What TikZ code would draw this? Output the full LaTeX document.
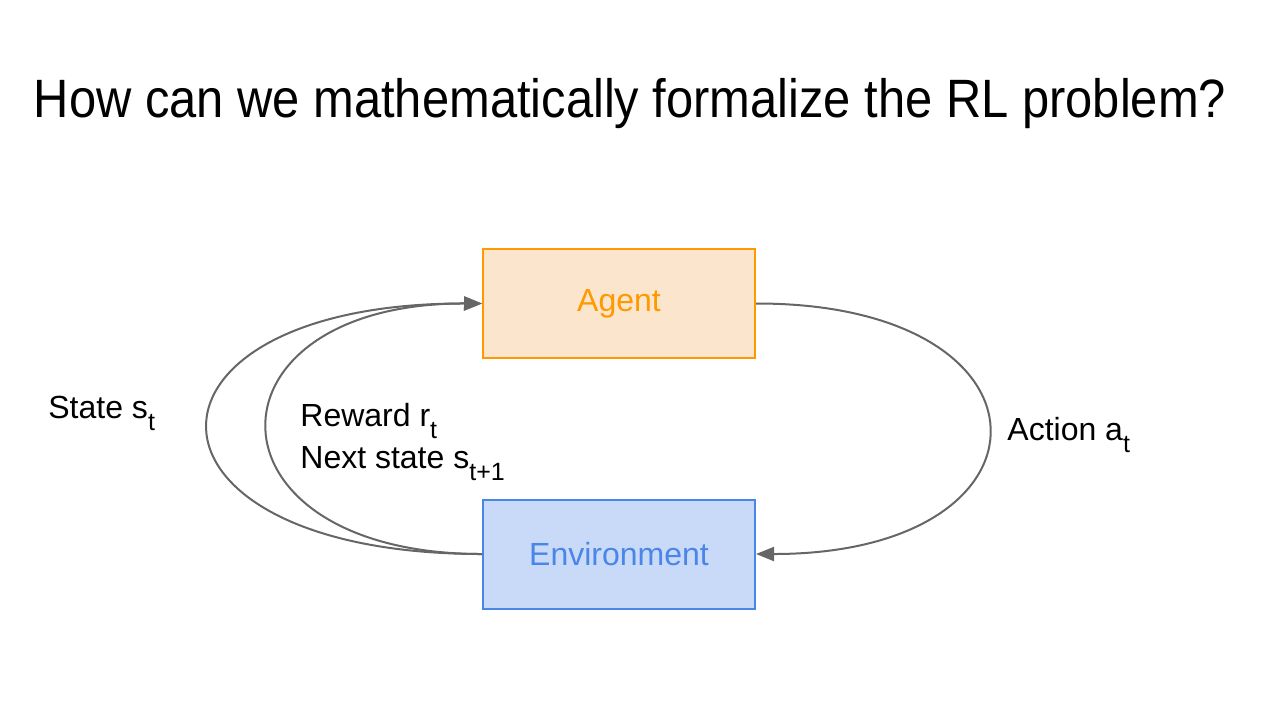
\documentclass[tikz,border=0pt]{standalone}
\usepackage{fontspec}
\setmainfont{Liberation Sans}
\newfontfamily\titlefont[FakeStretch=0.905]{Liberation Sans}
\usepackage{xcolor}
\usetikzlibrary{arrows.meta,positioning}

\definecolor{agentfill}{HTML}{FCE5CD}
\definecolor{agentline}{HTML}{FF9900}
\definecolor{envfill}{HTML}{C9DAF8}
\definecolor{envline}{HTML}{4A86E8}
\definecolor{loopgray}{HTML}{666666}

\newcommand{\lsub}[1]{\raisebox{-0.4em}{\fontsize{12.5}{12.5}\selectfont #1}}

\begin{document}
\begin{tikzpicture}[x=0.5pt, y=-0.5pt,
    rlbox/.style={rectangle, draw, line width=1pt, minimum width=136pt, minimum height=54.5pt, font=\fontsize{16}{19}\selectfont},
    rlarrow/.style={draw=loopgray, line width=1pt, -{Triangle[length=9pt, width=7pt]}},
    rllabel/.style={font=\fontsize{16}{19}\selectfont, align=left, inner sep=0pt}]

    \useasboundingbox (0,0) rectangle (1280,720);

    \node[font=\titlefont\fontsize{27}{32}\selectfont] (title) at (630,104) {How can we mathematically formalize the RL problem?};

    \node[rlbox, draw=agentline, fill=agentfill, text=agentline] (agent) at (619,303.5) {Agent};
    \node[rlbox, draw=envline, fill=envfill, text=envline] (env) at (619,554) {Environment};

    % action loop on the right
    \draw[rlarrow] (agent.east) .. controls (1066,303) and (1066,554) .. (env.east);

    % state and reward loops on the left
    \draw[rlarrow] (env.west) .. controls (117,554) and (117,303) .. (agent.west);
    \draw[rlarrow] (env.west) .. controls (196,554) and (196,303) .. (agent.west);

    \node[rllabel, anchor=base west] (state) at (48,418) {State s\lsub{t}};
    \node[rllabel, anchor=base west] (reward) at (300,468) {Reward r\lsub{t}\\[2pt]Next state s\lsub{t+1}};
    \node[rllabel, anchor=base west] (action) at (1007,440) {Action a\lsub{t}};

\end{tikzpicture}
\end{document}
